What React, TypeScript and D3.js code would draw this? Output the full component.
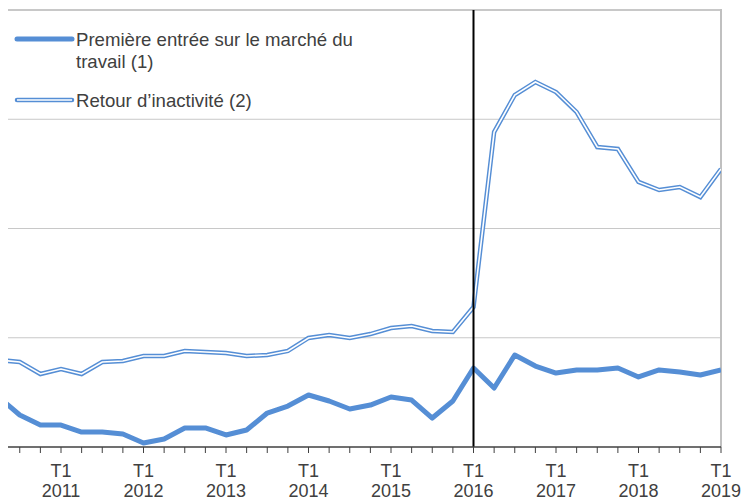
import React from 'react';
import * as d3 from 'd3';

// quarters from 2010 T2 to 2019 T1
const quarters = d3.range(-3, 33); // index 0 = 2011 T1
const years = ['2011', '2012', '2013', '2014', '2015', '2016', '2017', '2018', '2019'];

const premiereEntree = [
  4.52, 2.93, 2.01,
  2.01, 1.37, 1.37, 1.19,
  0.37, 0.73, 1.74, 1.74,
  1.10, 1.56, 3.11, 3.75,
  4.76, 4.21, 3.48, 3.84,
  4.58, 4.30, 2.65, 4.21,
  7.23, 5.40, 8.42, 7.41,
  6.77, 7.05, 7.05, 7.23,
  6.41, 7.05, 6.86, 6.59,
  7.05,
];

const retourInactivite = [
  7.96, 7.78, 6.68,
  7.14, 6.68, 7.78, 7.87,
  8.33, 8.33, 8.79, 8.70,
  8.60, 8.33, 8.42, 8.79,
  9.98, 10.25, 9.98, 10.34,
  10.89, 11.08, 10.62, 10.53,
  12.81, 28.83, 32.22, 33.41,
  32.49, 30.66, 27.46, 27.28,
  24.26, 23.52, 23.80, 22.88,
  25.45,
];

const yTicks = [0, 10, 20, 30, 40];

const W = 743;
const H = 502;
const left = 8;
const right = 721;
const top = 10;
const bottom = 447;
const blue = '#558ed5';
const textColor = '#404040';
const font = '"Liberation Sans", Arial, sans-serif';

export default function App() {
  const x = d3.scaleLinear().domain([0, 32]).range([61, right]);
  const y = d3.scaleLinear().domain([0, 40]).range([bottom, top]);

  const line = d3.line<number>()
    .x((_, i) => x(quarters[i]))
    .y(d => y(d));

  const axisTicks = quarters.filter(q => x(q) > left + 2);

  return (
    <svg width={W} height={H} style={{ position: 'absolute', left: 0, top: 0 }} fontFamily={font}>
      <defs>
        <clipPath id="plot">
          <rect x={left} y={top - 2} width={right - left} height={bottom - top + 4} />
        </clipPath>
      </defs>
      {yTicks.slice(1).map(t => (
        <line key={t} x1={left} x2={right} y1={y(t)} y2={y(t)}
          stroke="#c8c8c8" strokeWidth={t === 40 ? 2 : 1} />
      ))}
      <line x1={right} x2={right} y1={top - 1} y2={bottom} stroke="#c0c0c0" strokeWidth={2} />

      <g clipPath="url(#plot)">
        <path d={line(retourInactivite) ?? ''} fill="none" stroke={blue} strokeWidth={4.5} strokeLinejoin="miter" />
        <path d={line(retourInactivite) ?? ''} fill="none" stroke="#fff" strokeWidth={1.6} strokeLinejoin="miter" />
        <path d={line(premiereEntree) ?? ''} fill="none" stroke={blue} strokeWidth={5} strokeLinejoin="round" />
      </g>

      <line x1={x(20)} x2={x(20)} y1={top} y2={bottom} stroke="#000" strokeWidth={2} />

      <line x1={left} x2={right} y1={bottom} y2={bottom} stroke="#404040" strokeWidth={1.5} />
      {axisTicks.map(q => (
        <line key={q} x1={x(q)} x2={x(q)} y1={bottom} y2={bottom + 6} stroke="#404040" strokeWidth={1} />
      ))}
      {years.map((yr, i) => (
        <g key={yr} fill={textColor} fontSize={18} textAnchor="middle">
          <text x={x(i * 4)} y={477}>T1</text>
          <text x={x(i * 4)} y={497}>{yr}</text>
        </g>
      ))}

      <g fontSize={18.6} fill={textColor}>
        <line x1={17} x2={72} y1={39} y2={39} stroke={blue} strokeWidth={5} strokeLinecap="round" />
        <text x={76} y={46}>Première entrée sur le marché du</text>
        <text x={76} y={68}>travail (1)</text>
        <line x1={17} x2={72} y1={100} y2={100} stroke={blue} strokeWidth={4.5} strokeLinecap="round" />
        <line x1={17} x2={72} y1={100} y2={100} stroke="#fff" strokeWidth={1.6} />
        <text x={76} y={107}>Retour d’inactivité (2)</text>
      </g>
    </svg>
  );
}
